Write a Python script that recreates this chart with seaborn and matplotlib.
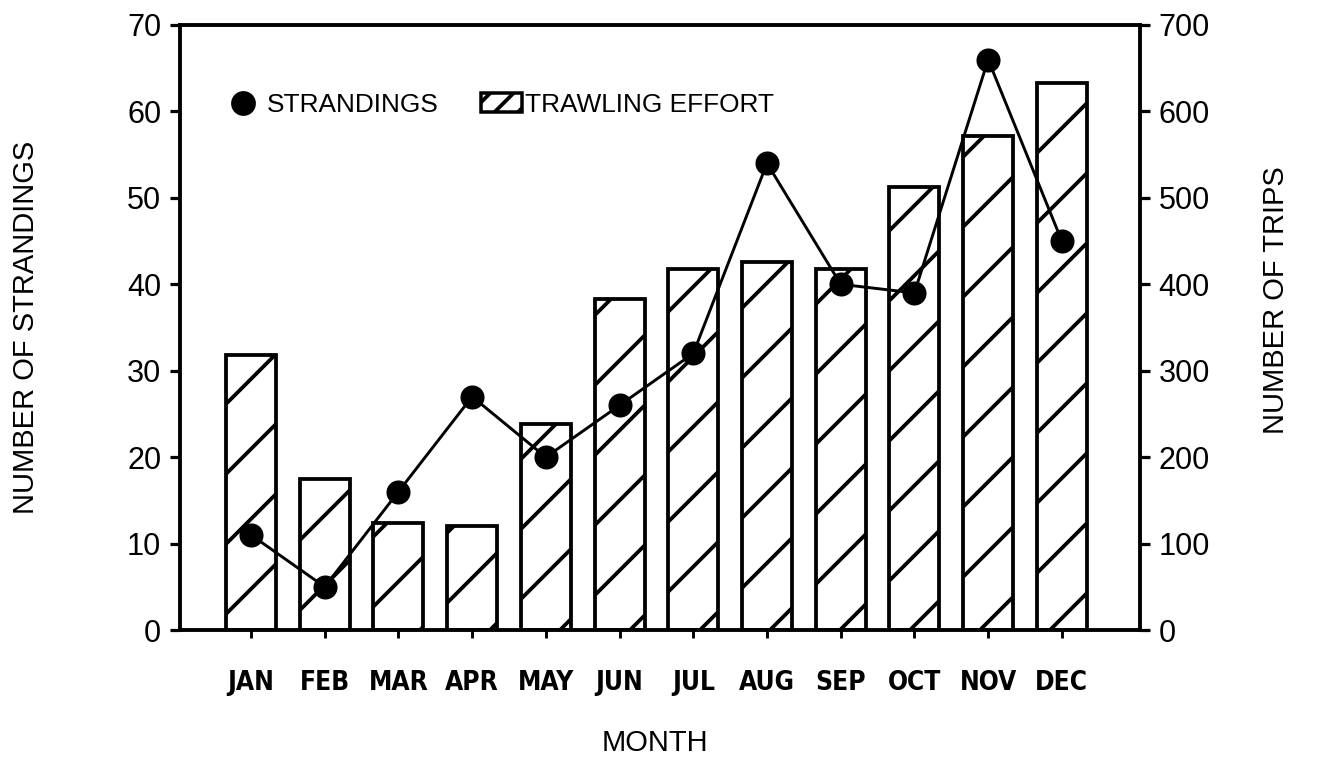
import numpy as np
import pandas as pd
import matplotlib
matplotlib.use("Agg")
import matplotlib.pyplot as plt
import seaborn as sns
from matplotlib import font_manager
from matplotlib.lines import Line2D
from matplotlib.patches import Patch

# Monthly strandings (left axis) and trawling trips (right axis)
months = ["JAN", "FEB", "MAR", "APR", "MAY", "JUN",
          "JUL", "AUG", "SEP", "OCT", "NOV", "DEC"]
trips = [318, 175, 124, 120, 238, 383, 418, 426, 418, 512, 572, 633]
strandings = [11, 5, 16, 27, 20, 26, 32, 54, 40, 39, 66, 45]

left_ticks = list(range(0, 71, 10))
right_ticks = list(range(0, 701, 100))

sns.set_theme(style="ticks", rc={"axes.edgecolor": "black",
                                 "xtick.color": "black",
                                 "ytick.color": "black",
                                 "text.color": "black",
                                 "axes.labelcolor": "black"})
plt.rcParams["font.family"] = ["Liberation Sans", "DejaVu Sans"]
plt.rcParams["hatch.linewidth"] = 1.3
plt.rcParams["hatch.color"] = "black"

# Condensed bold face for the month names, if one is installed
installed = {(f.name, f.stretch) for f in font_manager.fontManager.ttflist}
if any(n == "Liberation Sans Narrow" for n, _ in installed):
    month_font = dict(family="Liberation Sans Narrow", fontsize=10)
elif ("DejaVu Sans", "condensed") in installed or \
        ("DejaVu Sans", 75) in installed:
    month_font = dict(family="DejaVu Sans", fontstretch="condensed",
                      fontsize=9)
else:
    month_font = dict(family="Liberation Sans", fontsize=8.5)

DPI = 210
W, H = 1319, 757
fig = plt.figure(figsize=(W / DPI, H / DPI), dpi=DPI)
fig.patch.set_facecolor("white")

ax = fig.add_axes([180 / W, 1 - 630 / H, 960 / W, 605 / H])
ax2 = ax.twinx()

df = pd.DataFrame({"month": months, "trips": trips, "strandings": strandings})

# Trawling effort bars on the right-hand axis
sns.barplot(data=df, x="month", y="trips", ax=ax2, color="white",
            saturation=1, edgecolor="black", linewidth=1.3, hatch="/",
            width=0.68, errorbar=None)

# Strandings line on the left-hand axis, drawn above the bars
ax.set_zorder(ax2.get_zorder() + 1)
ax.patch.set_visible(False)
ax2.patch.set_facecolor("white")
sns.lineplot(data=df, x="month", y="strandings", ax=ax, color="black",
             linewidth=1.0, marker="o", markersize=7.5,
             markeredgecolor="black", sort=False)

ax.set_xlim(-0.963, 12.06)
ax.set_ylim(0, 70)
ax.set_yticks(left_ticks)
ax2.set_ylim(0, 700)
ax2.set_yticks(right_ticks)

for a in (ax, ax2):
    for s in a.spines.values():
        s.set_visible(True)
        s.set_linewidth(1.2)
        s.set_color("black")

ax.tick_params(axis="y", direction="out", length=3.4, width=1.1, pad=3,
               labelsize=10.5)
ax2.tick_params(axis="y", direction="out", length=3.4, width=1.1, pad=3,
                labelsize=10.5)
ax.tick_params(axis="x", direction="out", length=2.7, width=1.0, pad=11)
ax2.tick_params(axis="x", bottom=False, labelbottom=False)
ax.set_xticks(range(len(months)))
ax.set_xticklabels(months, fontweight="bold", **month_font)

ax.set_xlabel("MONTH", fontsize=10)
ax.xaxis.set_label_coords(0.495, -0.164)
ax.set_ylabel("NUMBER OF STRANDINGS", fontsize=10)
ax.yaxis.set_label_coords(-0.146, 0.5)
ax2.set_ylabel("NUMBER OF TRIPS", fontsize=10)
ax2.yaxis.set_label_coords(1.127, 0.545)

handles = [
    Line2D([], [], marker="o", color="black", linestyle="none",
           markersize=7.5),
    Patch(facecolor="white", edgecolor="black", hatch="///", linewidth=1.2),
]
ax.legend(handles, ["STRANDINGS", "TRAWLING EFFORT"], loc="upper left",
          bbox_to_anchor=(0.034, 0.905), frameon=False, ncol=2,
          fontsize=9, handlelength=1.55, handleheight=0.75,
          handletextpad=0.12, columnspacing=1.6, borderaxespad=0)

fig.savefig("out.png", dpi=DPI, facecolor="white")
